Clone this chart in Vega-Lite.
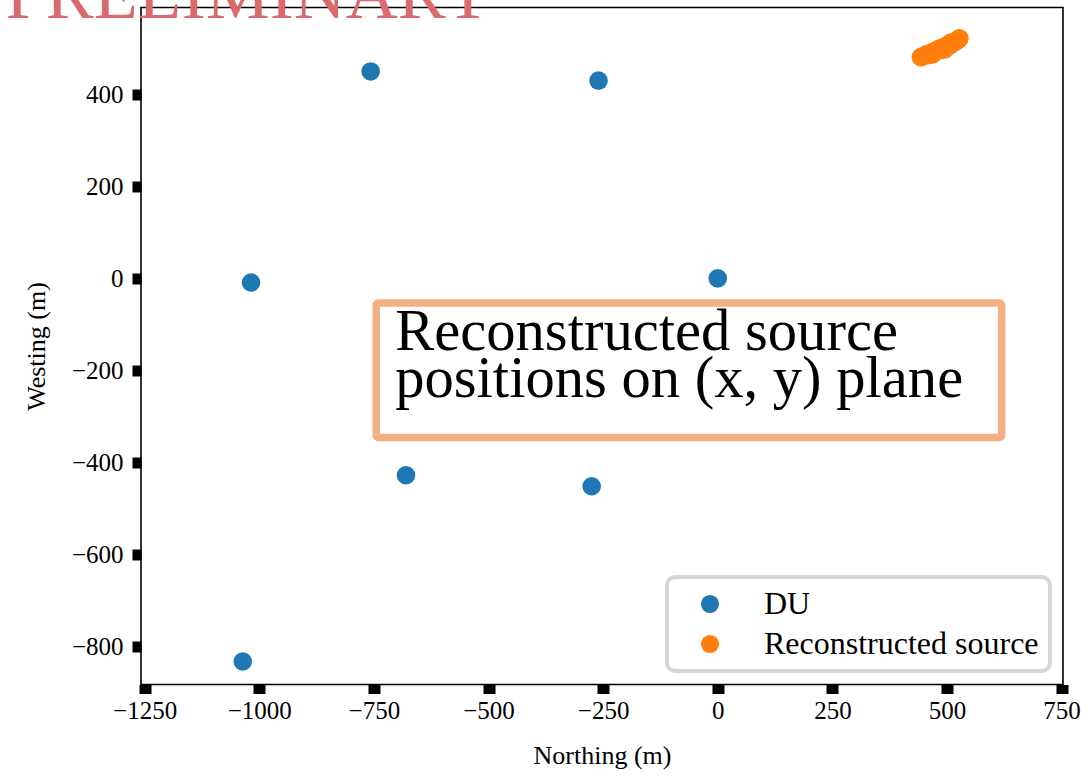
{
  "$schema": "https://vega.github.io/schema/vega-lite/v6.json",
  "autosize": {"type": "none"},
  "padding": {"left": 141, "top": 7.5, "right": 26, "bottom": 94.5},
  "width": 922,
  "height": 677,
  "background": "white",
  "config": {
    "view": {"stroke": "black", "strokeWidth": 1.6},
    "font": "Liberation Serif",
    "legend": {"strokeWidth": 4},
    "axis": {
      "domain": false,
      "grid": false,
      "tickColor": "black",
      "tickSize": 9,
      "labelColor": "black",
      "labelFont": "Liberation Serif",
      "labelFontSize": 25,
      "titleFont": "Liberation Serif",
      "titleFontSize": 26,
      "titleFontWeight": "normal",
      "titleColor": "black"
    }
  },
  "datasets": {
    "stations": [
      {"northing": -757, "westing": 450, "kind": "DU"},
      {"northing": -260, "westing": 430, "kind": "DU"},
      {"northing": -1018, "westing": -9, "kind": "DU"},
      {"northing": 0, "westing": 0, "kind": "DU"},
      {"northing": -680, "westing": -428, "kind": "DU"},
      {"northing": -275, "westing": -452, "kind": "DU"},
      {"northing": -1036, "westing": -833, "kind": "DU"}
    ],
    "sources": [
      {"northing": 443, "westing": 481, "kind": "Reconstructed source"},
      {"northing": 447, "westing": 483, "kind": "Reconstructed source"},
      {"northing": 452, "westing": 484, "kind": "Reconstructed source"},
      {"northing": 455, "westing": 487, "kind": "Reconstructed source"},
      {"northing": 459, "westing": 486, "kind": "Reconstructed source"},
      {"northing": 463, "westing": 489, "kind": "Reconstructed source"},
      {"northing": 466, "westing": 491, "kind": "Reconstructed source"},
      {"northing": 468, "westing": 487, "kind": "Reconstructed source"},
      {"northing": 470, "westing": 490, "kind": "Reconstructed source"},
      {"northing": 473, "westing": 494, "kind": "Reconstructed source"},
      {"northing": 477, "westing": 495, "kind": "Reconstructed source"},
      {"northing": 480, "westing": 497, "kind": "Reconstructed source"},
      {"northing": 482, "westing": 499, "kind": "Reconstructed source"},
      {"northing": 484, "westing": 496, "kind": "Reconstructed source"},
      {"northing": 487, "westing": 500, "kind": "Reconstructed source"},
      {"northing": 490, "westing": 502, "kind": "Reconstructed source"},
      {"northing": 494, "westing": 501, "kind": "Reconstructed source"},
      {"northing": 495, "westing": 498, "kind": "Reconstructed source"},
      {"northing": 497, "westing": 505, "kind": "Reconstructed source"},
      {"northing": 500, "westing": 506, "kind": "Reconstructed source"},
      {"northing": 503, "westing": 508, "kind": "Reconstructed source"},
      {"northing": 507, "westing": 507, "kind": "Reconstructed source"},
      {"northing": 508, "westing": 513, "kind": "Reconstructed source"},
      {"northing": 510, "westing": 511, "kind": "Reconstructed source"},
      {"northing": 513, "westing": 512, "kind": "Reconstructed source"},
      {"northing": 516, "westing": 514, "kind": "Reconstructed source"},
      {"northing": 519, "westing": 515, "kind": "Reconstructed source"},
      {"northing": 522, "westing": 518, "kind": "Reconstructed source"},
      {"northing": 525, "westing": 519, "kind": "Reconstructed source"},
      {"northing": 527, "westing": 522, "kind": "Reconstructed source"}
    ]
  },
  "layer": [
    {
      "data": {"values": [{}]},
      "mark": {"type": "rect", "fill": "white", "stroke": "#f3b183", "strokeWidth": 7.5, "cornerRadius": 2},
      "encoding": {
        "x": {"datum": -745, "type": "quantitative", "scale": {"domain": [-1258, 753], "nice": false, "zero": false}},
        "x2": {"datum": 619},
        "y": {"datum": -53.7, "type": "quantitative", "scale": {"domain": [-883, 589], "nice": false, "zero": false}},
        "y2": {"datum": -346}
      }
    },
    {
      "data": {"values": [{}]},
      "mark": {"type": "text", "text": ["Reconstructed source", "positions on (x, y) plane"], "font": "Liberation Serif", "fontSize": 58.6, "lineHeight": 47, "align": "left", "baseline": "alphabetic", "color": "black"},
      "encoding": {
        "x": {"datum": -703.6, "type": "quantitative"},
        "y": {"datum": -155.9, "type": "quantitative"}
      }
    },
    {
      "data": {"name": "stations"},
      "mark": {"type": "point", "shape": "circle", "filled": true, "opacity": 1, "size": 346},
      "encoding": {
        "x": {
          "field": "northing", "type": "quantitative",
          "scale": {"domain": [-1258, 753], "nice": false, "zero": false},
          "axis": {"title": "Northing (m)", "values": [-1250, -1000, -750, -500, -250, 0, 250, 500, 750], "format": "d", "tickWidth": 12, "labelPadding": 5, "titleY": 78.5, "titleBaseline": "alphabetic"}
        },
        "y": {
          "field": "westing", "type": "quantitative",
          "scale": {"domain": [-883, 589], "nice": false, "zero": false},
          "axis": {"title": "Westing (m)", "values": [-800, -600, -400, -200, 0, 200, 400], "format": "d", "tickWidth": 11, "labelPadding": 9, "titleX": -97, "titleY": 338.5, "titleBaseline": "alphabetic", "titleAngle": -90}
        },
        "color": {
          "field": "kind", "type": "nominal",
          "scale": {"domain": ["DU", "Reconstructed source"], "range": ["#1f77b4", "#ff7f0e"]},
          "legend": {
            "title": null,
            "orient": "none",
            "legendX": 526,
            "legendY": 569.5,
            "padding": 11,
            "symbolOffset": 16,
            "symbolSize": 330,
            "symbolType": "circle",
            "symbolStrokeWidth": 0,
            "labelOffset": 38,
            "labelLimit": 500,
            "labelFont": "Liberation Serif",
            "labelFontSize": 32,
            "labelColor": "black",
            "rowPadding": 8,
            "strokeColor": "#d6d6d6",
            "cornerRadius": 8,
            "fillColor": "white"
          }
        }
      }
    },
    {
      "data": {"name": "sources"},
      "mark": {"type": "point", "shape": "circle", "filled": true, "opacity": 1, "size": 346},
      "encoding": {
        "x": {"field": "northing", "type": "quantitative"},
        "y": {"field": "westing", "type": "quantitative"},
        "color": {"field": "kind", "type": "nominal"}
      }
    },
    {
      "data": {"values": [{}]},
      "mark": {"type": "text", "text": "PRELIMINARY", "font": "Liberation Serif", "fontSize": 72, "align": "left", "baseline": "alphabetic", "color": "#da6a6d"},
      "encoding": {
        "x": {"datum": -1553, "type": "quantitative"},
        "y": {"datum": 566, "type": "quantitative"}
      }
    }
  ]
}
